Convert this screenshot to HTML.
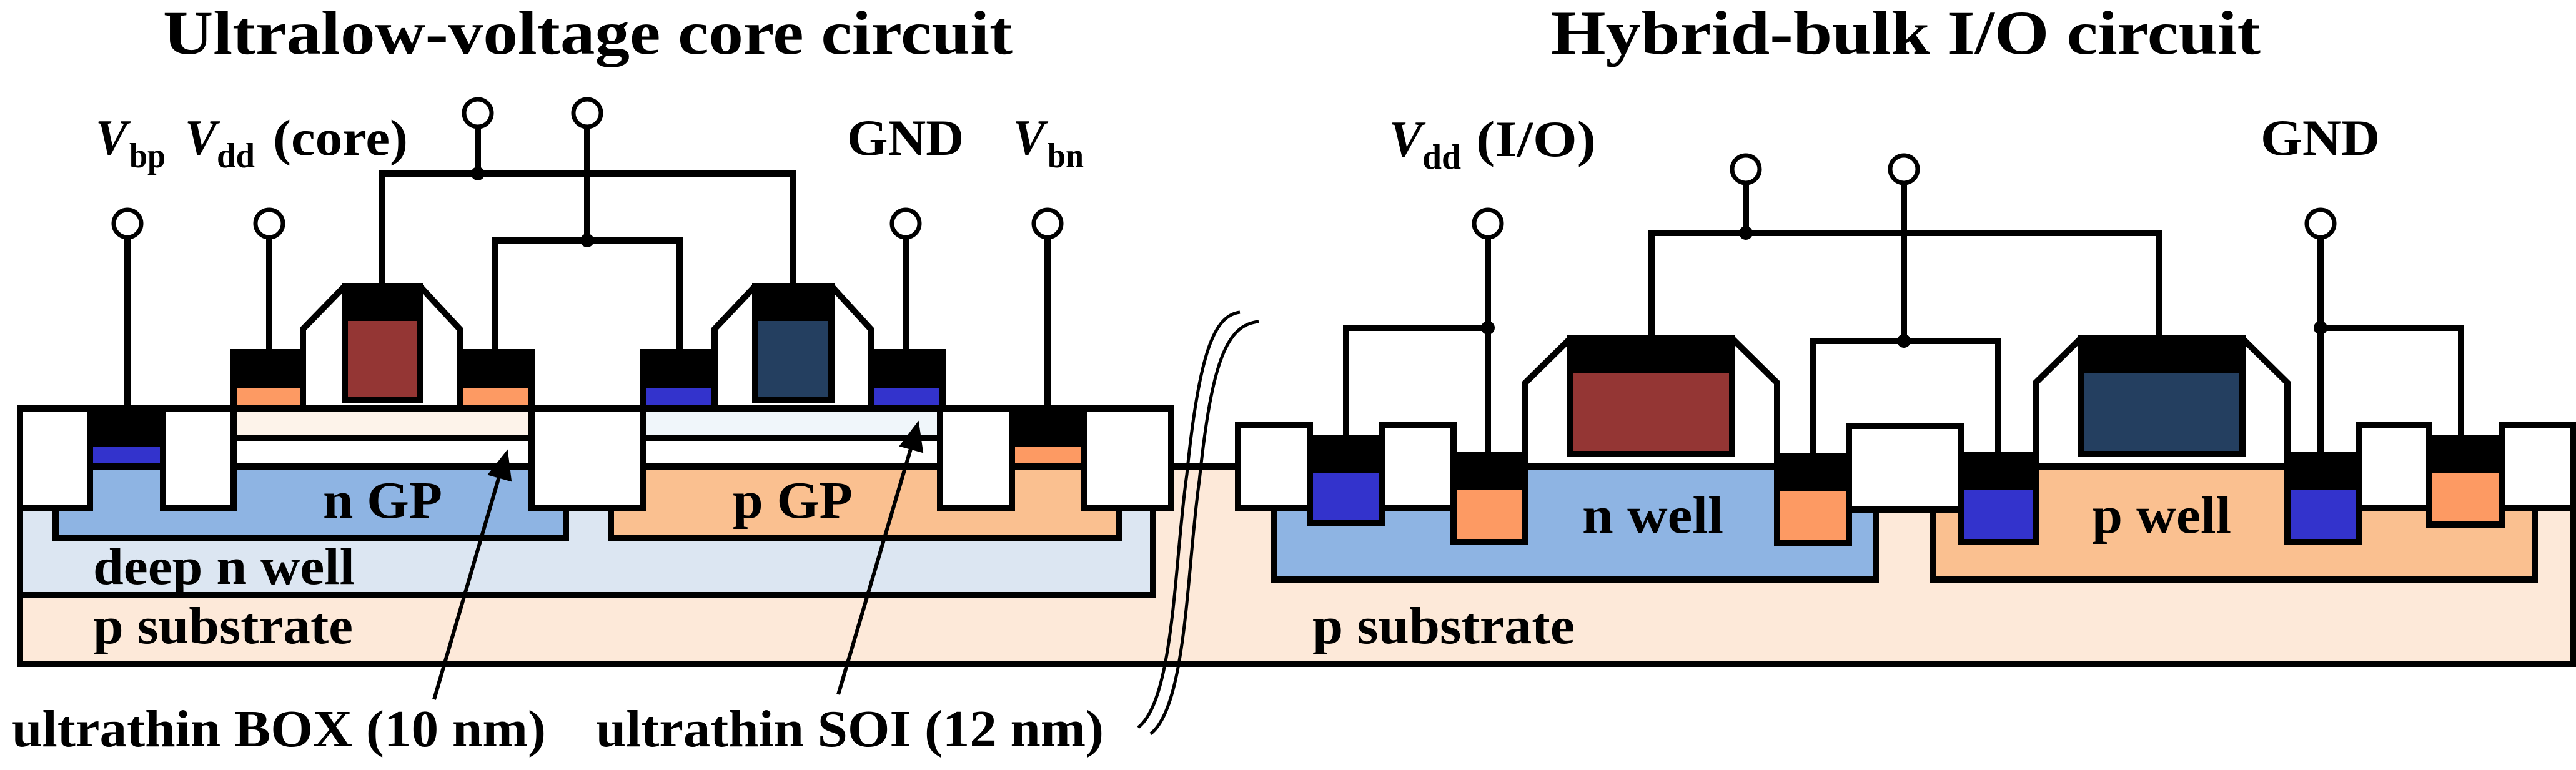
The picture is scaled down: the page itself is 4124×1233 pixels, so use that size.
<!DOCTYPE html>
<html><head><meta charset="utf-8"><style>
html,body{margin:0;padding:0;background:#fff;}
svg{display:block;}
text{font-family:"Liberation Serif","Times New Roman",serif;font-weight:bold;fill:#000;}
</style></head><body>
<svg width="4124" height="1233" viewBox="0 0 4124 1233" xmlns="http://www.w3.org/2000/svg">
<g stroke="#000" stroke-width="10" stroke-linejoin="miter">
<!-- substrate -->
<polygon points="32,654 1875,654 1875,747 4120,747 4120,1063 32,1063" fill="#fde9d9"/>
<!-- deep n well -->
<rect x="32" y="654" width="1814" height="299" fill="#dce6f2"/>
<!-- GP -->
<rect x="89" y="700" width="817" height="161" fill="#8eb4e3"/>
<rect x="978" y="700" width="814" height="161" fill="#fac090"/>
<!-- SOI + BOX -->
<rect x="374" y="654" width="477" height="47" fill="#fdf3ea"/>
<rect x="374" y="701" width="477" height="46" fill="#fff"/>
<rect x="1029" y="654" width="476" height="47" fill="#f0f6fa"/>
<rect x="1029" y="701" width="476" height="46" fill="#fff"/>
<!-- body contacts left -->
<rect x="144" y="654" width="117" height="57" fill="#000"/>
<rect x="144" y="711" width="117" height="36" fill="#3333cc"/>
<rect x="1620" y="654" width="115" height="57" fill="#000"/>
<rect x="1620" y="711" width="115" height="36" fill="#fd9a63"/>
<!-- STI left -->
<rect x="32" y="654" width="112" height="160" fill="#fff"/>
<rect x="261" y="654" width="113" height="160" fill="#fff"/>
<rect x="851" y="654" width="178" height="160" fill="#fff"/>
<rect x="1505" y="654" width="115" height="160" fill="#fff"/>
<rect x="1735" y="654" width="140" height="160" fill="#fff"/>
<!-- raised S/D -->
<rect x="374" y="564" width="111" height="53" fill="#000"/><rect x="374" y="617" width="111" height="37" fill="#fd9a63"/>
<rect x="736" y="564" width="115" height="53" fill="#000"/><rect x="736" y="617" width="115" height="37" fill="#fd9a63"/>
<rect x="1029" y="564" width="115" height="53" fill="#000"/><rect x="1029" y="617" width="115" height="37" fill="#3333cc"/>
<rect x="1394" y="564" width="115" height="53" fill="#000"/><rect x="1394" y="617" width="115" height="37" fill="#3333cc"/>
<!-- gates left -->
<polygon points="485,654 485,527 552,458 672,458 736,527 736,654" fill="#fff"/>
<rect x="552" y="458" width="120" height="183" fill="#943634"/><rect x="552" y="458" width="120" height="51" fill="#000"/>
<polygon points="1144,654 1144,527 1209,458 1331,458 1394,527 1394,654" fill="#fff"/>
<rect x="1209" y="458" width="122" height="183" fill="#243f60"/><rect x="1209" y="458" width="122" height="51" fill="#000"/>

<!-- right: wells -->
<rect x="2040" y="747" width="963" height="181" fill="#8eb4e3"/>
<rect x="3094" y="747" width="964" height="181" fill="#fac090"/>
<!-- right contacts -->
<rect x="2097" y="702" width="115" height="51" fill="#000"/><rect x="2097" y="753" width="115" height="84" fill="#3333cc"/>
<rect x="2327" y="729" width="115" height="51" fill="#000"/><rect x="2327" y="780" width="115" height="88" fill="#fd9a63"/>
<rect x="2845" y="731" width="115" height="51" fill="#000"/><rect x="2845" y="782" width="115" height="88" fill="#fd9a63"/>
<rect x="3140" y="729" width="119" height="51" fill="#000"/><rect x="3140" y="780" width="119" height="88" fill="#3333cc"/>
<rect x="3662" y="729" width="115" height="51" fill="#000"/><rect x="3662" y="780" width="115" height="88" fill="#3333cc"/>
<rect x="3889" y="702" width="116" height="51" fill="#000"/><rect x="3889" y="753" width="116" height="87" fill="#fd9a63"/>
<!-- right STI -->
<rect x="1982" y="680" width="115" height="134" fill="#fff"/>
<rect x="2212" y="680" width="115" height="134" fill="#fff"/>
<rect x="2960" y="682" width="180" height="134" fill="#fff"/>
<rect x="3777" y="680" width="112" height="134" fill="#fff"/>
<rect x="4005" y="680" width="115" height="134" fill="#fff"/>
<!-- right gates -->
<polygon points="2442,747 2442,613 2514,542 2773,542 2845,613 2845,747" fill="#fff"/>
<rect x="2514" y="542" width="259" height="185" fill="#943634"/><rect x="2514" y="542" width="259" height="51" fill="#000"/>
<polygon points="3259,747 3259,613 3331,542 3590,542 3662,613 3662,747" fill="#fff"/>
<rect x="3331" y="542" width="259" height="185" fill="#243f60"/><rect x="3331" y="542" width="259" height="51" fill="#000"/>

<g fill="none">
<line x1="204" y1="381" x2="204" y2="654"/>
<line x1="431" y1="381" x2="431" y2="564"/>
<line x1="1450" y1="381" x2="1450" y2="564"/>
<line x1="1677" y1="381" x2="1677" y2="654"/>
<line x1="765" y1="203" x2="765" y2="278"/>
<polyline points="612,458 612,278 1269,278 1269,458"/>
<line x1="940" y1="203" x2="940" y2="385"/>
<polyline points="793,564 793,385 1088,385 1088,564"/>
<line x1="2382" y1="381" x2="2382" y2="729"/>
<polyline points="2155,702 2155,525 2382,525"/>
<line x1="3715" y1="381" x2="3715" y2="729"/>
<polyline points="3940,702 3940,525 3715,525"/>
<line x1="2795" y1="293" x2="2795" y2="373"/>
<polyline points="2644,542 2644,373 3456,373 3456,542"/>
<line x1="3048" y1="293" x2="3048" y2="546"/>
<polyline points="2903,729 2903,546 3199,546 3199,729"/>
</g>
<g fill="#fff" stroke-width="7">
<ellipse cx="204" cy="358" rx="22" ry="22"/>
<ellipse cx="431" cy="358" rx="22" ry="22"/>
<ellipse cx="1450" cy="358" rx="22" ry="22"/>
<ellipse cx="1677" cy="358" rx="22" ry="22"/>
<ellipse cx="765" cy="181" rx="22" ry="22"/>
<ellipse cx="940" cy="181" rx="22" ry="22"/>
<ellipse cx="2382" cy="358" rx="22" ry="22"/>
<ellipse cx="3715" cy="358" rx="22" ry="22"/>
<ellipse cx="2795" cy="271" rx="22" ry="22"/>
<ellipse cx="3048" cy="271" rx="22" ry="22"/>
</g>
<g fill="#000" stroke="none">
<circle cx="765" cy="278" r="11"/><circle cx="940" cy="385" r="11"/>
<circle cx="2382" cy="525" r="11"/><circle cx="3715" cy="525" r="11"/>
<circle cx="2795" cy="373" r="11"/><circle cx="3048" cy="546" r="11"/>
</g>
<line x1="695" y1="1120" x2="800" y2="760" stroke-width="6"/>
<polygon points="812,722 818,770 782,760" fill="#000" stroke-width="2"/>
<line x1="1342" y1="1112" x2="1460" y2="712" stroke-width="6"/>
<polygon points="1470,676 1477,724 1441,714" fill="#000" stroke-width="2"/>
<path d="M1822,1165 C1880,1120 1880,900 1900,760 C1920,560 1945,505 1985,500" fill="none" stroke-width="5"/>
<path d="M1842,1175 C1900,1130 1900,910 1920,770 C1940,575 1965,520 2015,515" fill="none" stroke-width="5"/>
</g>

<g lengthAdjust="spacingAndGlyphs">
<text x="261" y="86" font-size="100" textLength="1360" lengthAdjust="spacingAndGlyphs">Ultralow-voltage core circuit</text>
<text x="2483" y="86" font-size="100" textLength="1136" lengthAdjust="spacingAndGlyphs">Hybrid-bulk I/O circuit</text>

<text x="153" y="248" font-size="82" font-style="italic" textLength="51" lengthAdjust="spacingAndGlyphs">V</text>
<text x="207" y="268" font-size="56" textLength="58" lengthAdjust="spacingAndGlyphs">bp</text>
<text x="296" y="248" font-size="82" font-style="italic" textLength="51" lengthAdjust="spacingAndGlyphs">V</text>
<text x="347" y="268" font-size="56" textLength="61" lengthAdjust="spacingAndGlyphs">dd</text>
<text x="437" y="248" font-size="82" textLength="216" lengthAdjust="spacingAndGlyphs">(core)</text>
<text x="1356" y="248" font-size="82" textLength="187" lengthAdjust="spacingAndGlyphs">GND</text>
<text x="1622" y="248" font-size="82" font-style="italic" textLength="51" lengthAdjust="spacingAndGlyphs">V</text>
<text x="1677" y="268" font-size="56" textLength="58" lengthAdjust="spacingAndGlyphs">bn</text>
<text x="2224" y="250" font-size="82" font-style="italic" textLength="53" lengthAdjust="spacingAndGlyphs">V</text>
<text x="2277" y="270" font-size="56" textLength="62" lengthAdjust="spacingAndGlyphs">dd</text>
<text x="2363" y="250" font-size="82" textLength="192" lengthAdjust="spacingAndGlyphs">(I/O)</text>
<text x="3619" y="248" font-size="82" textLength="191" lengthAdjust="spacingAndGlyphs">GND</text>

<text x="517" y="829" font-size="84" textLength="191" lengthAdjust="spacingAndGlyphs">n GP</text>
<text x="1173" y="829" font-size="84" textLength="192" lengthAdjust="spacingAndGlyphs">p GP</text>
<text x="149" y="935" font-size="84" textLength="419" lengthAdjust="spacingAndGlyphs">deep n well</text>
<text x="149" y="1030" font-size="84" textLength="416" lengthAdjust="spacingAndGlyphs">p substrate</text>
<text x="2533" y="853" font-size="84" textLength="226" lengthAdjust="spacingAndGlyphs">n well</text>
<text x="3349" y="853" font-size="84" textLength="223" lengthAdjust="spacingAndGlyphs">p well</text>
<text x="2101" y="1030" font-size="84" textLength="420" lengthAdjust="spacingAndGlyphs">p substrate</text>
<text x="19" y="1195" font-size="84" textLength="855" lengthAdjust="spacingAndGlyphs">ultrathin BOX (10 nm)</text>
<text x="954" y="1195" font-size="84" textLength="813" lengthAdjust="spacingAndGlyphs">ultrathin SOI (12 nm)</text>
</g>
</svg>
</body></html>
